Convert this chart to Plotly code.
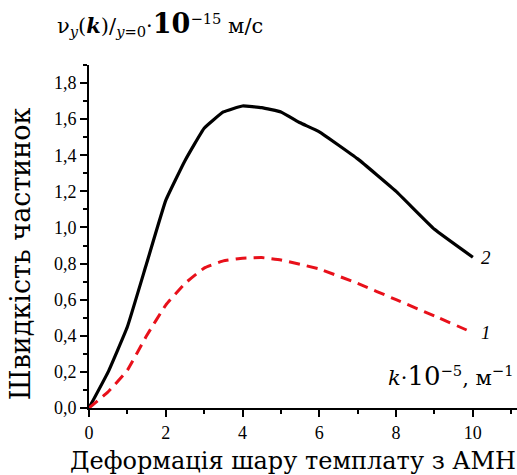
import plotly.graph_objects as go

k_black = [0, 0.5, 1, 1.5, 2, 2.5, 3, 3.5, 4, 4.5, 5, 5.5, 6, 7, 8, 9, 10]
v_black = [0, 0.2, 0.45, 0.8, 1.15, 1.37, 1.55, 1.64, 1.673, 1.664, 1.64, 1.58, 1.53, 1.38, 1.2, 0.99, 0.835]

k_red = [0, 0.5, 1, 1.5, 2, 2.5, 3, 3.5, 4, 4.5, 5, 6, 7, 8, 9, 10]
v_red = [0, 0.09, 0.21, 0.4, 0.57, 0.69, 0.775, 0.815, 0.83, 0.833, 0.82, 0.77, 0.69, 0.6, 0.51, 0.417]

curve_labels = ["2", "1"]

SERIF = "Liberation Serif"
TITLE_FONT = "DejaVu Serif"

fig = go.Figure()
fig.add_trace(go.Scatter(x=k_black, y=v_black, mode="lines",
                         line=dict(color="black", width=3.2, shape="spline", smoothing=0.3),
                         showlegend=False))
fig.add_trace(go.Scatter(x=k_red, y=v_red, mode="lines",
                         line=dict(color="#e8101a", width=3, dash="11px,7px", shape="spline", smoothing=0.3),
                         showlegend=False))

fig.add_annotation(x=k_black[-1] + 0.15, y=v_black[-1], text="<i>" + curve_labels[0] + "</i>",
                   showarrow=False, xanchor="left", yanchor="middle",
                   font=dict(family=SERIF, size=19, color="black"))
fig.add_annotation(x=k_red[-1] + 0.15, y=v_red[-1], text="<i>" + curve_labels[1] + "</i>",
                   showarrow=False, xanchor="left", yanchor="middle",
                   font=dict(family=SERIF, size=19, color="black"))

fig.update_layout(
    width=517, height=475,
    margin=dict(l=89, r=0, t=65, b=67),
    plot_bgcolor="white", paper_bgcolor="white",
    separators=", ",
    font=dict(family=SERIF, size=18, color="black"),
    xaxis=dict(range=[0, 11.15], showgrid=False, zeroline=False,
               showline=True, linecolor="black", linewidth=2,
               ticks="outside", ticklen=7, tickwidth=1.5, tickcolor="black",
               tick0=0, dtick=2, tickfont=dict(family=SERIF, size=18),
               minor=dict(ticks="outside", ticklen=4, tickwidth=1.5, tickcolor="black", dtick=1)),
    yaxis=dict(range=[0, 1.9], showgrid=False, zeroline=False,
               showline=True, linecolor="black", linewidth=2,
               ticks="outside", ticklen=7, tickwidth=1.5, tickcolor="black",
               tick0=0, dtick=0.2, tickformat=".1f", tickfont=dict(family=SERIF, size=18),
               minor=dict(ticks="outside", ticklen=4, tickwidth=1.5, tickcolor="black", dtick=0.1)),
)

fig.add_annotation(xref="paper", yref="paper", x=0.998, y=0.045, xanchor="right", yanchor="bottom",
                   text="<i>k</i>·<span style='font-size:26px'>10</span><sup>−5</sup>, м<sup>−1</sup>",
                   showarrow=False,
                   font=dict(family=TITLE_FONT, size=21, color="black"))
fig.add_annotation(xref="paper", yref="paper", x=-0.16, y=0.45, xanchor="center", yanchor="middle",
                   text="Швидкість частинок", textangle=-90, showarrow=False,
                   font=dict(family=TITLE_FONT, size=27, color="black"))
fig.add_annotation(xref="paper", yref="paper", x=-0.05, y=-0.155, xanchor="left", yanchor="middle",
                   text="Деформація шару темплату з АМН", showarrow=False,
                   font=dict(family=TITLE_FONT, size=24, color="black"))
fig.add_annotation(xref="paper", yref="paper", x=-0.08, y=1.12, xanchor="left", yanchor="middle",
                   text="ν<sub><i>y</i></sub>(<b><i>k</i></b>)/<sub><i>y</i>=0</sub>·<b><span style='font-size:27px'>10</span></b><sup>−15</sup> м/с",
                   showarrow=False, font=dict(family=TITLE_FONT, size=21, color="black"))

fig.write_html("out.html")
